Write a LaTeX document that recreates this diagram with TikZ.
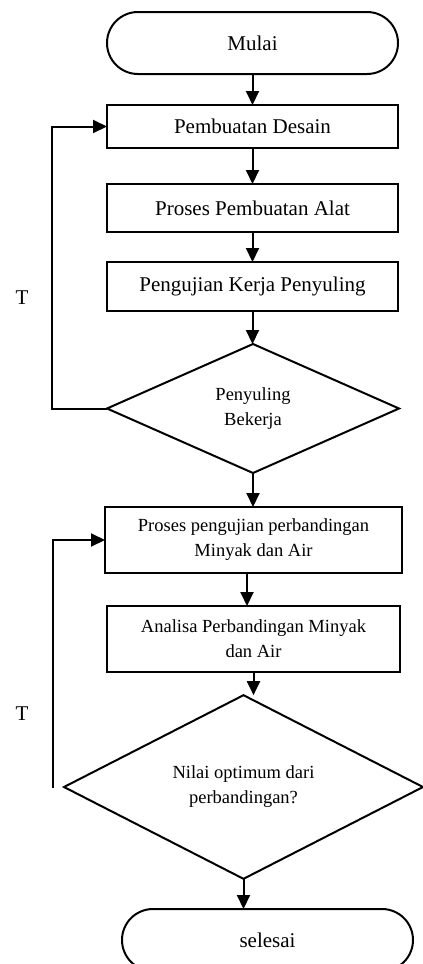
\documentclass[tikz,border=0pt]{standalone}
\usepackage{fontspec}
\setmainfont{Liberation Serif}
\usetikzlibrary{shapes.geometric,shapes.misc,arrows.meta}
\begin{document}
\begin{tikzpicture}[x=1pt,y=-1pt,
  every node/.style={inner sep=0pt,outer sep=0pt},
  base/.style={draw=black,line width=2pt,fill=white},
  big/.style={font=\fontsize{21}{25}\selectfont},
  small/.style={font=\fontsize{18.5}{25}\selectfont,align=center},
  term/.style={base,big,rounded rectangle,minimum width=291pt,minimum height=62pt},
  proc/.style={base,rectangle,minimum width=291pt},
  dec/.style={base,diamond,small},
  conn/.style={line width=2pt,-{Triangle[length=14pt,width=13pt]}}
]
\useasboundingbox (0,0) rectangle (423,964);
\node[term] (mulai) at (252.5,43) {Mulai};
\node[proc,big,minimum height=43pt] (b1) at (252.5,126.5) {Pembuatan Desain};
\node[proc,big,minimum height=48pt] (b2) at (252.5,208) {Proses Pembuatan Alat};
\node[proc,big,minimum height=49pt] (b3) at (252.5,286.5) {Pengujian Kerja Penyuling};
\node[dec,minimum width=292pt,minimum height=129pt] (d1) at (253,408.5) {Penyuling\\Bekerja};
\node[proc,small,minimum width=297pt,minimum height=66pt] (b4) at (253.5,540) {Proses pengujian perbandingan\\Minyak dan Air};
\node[proc,small,minimum width=293pt,minimum height=66pt] (b5) at (253.5,639) {Analisa Perbandingan Minyak\\dan Air};
\node[dec,minimum width=359pt,minimum height=164pt] (d2) at (243.5,787) {Nilai optimum dari\\perbandingan?};
\node[term] (selesai) at (267.5,940) {selesai};
\node[big] (t1) at (22,298) {T};
\node[big] (t2) at (22,714) {T};
\coordinate (l2) at (53,788);

\draw[conn] (mulai.south) -- (b1.north);
\draw[conn] (b1.south) -- (b2.north);
\draw[conn] (b2.south) -- (b3.north);
\draw[conn] (b3.south) -- (b3.south |- d1.north);
\draw[conn] (d1.south) -- (d1.south |- b4.north);
\draw[conn] ([xshift=-6.5pt]b4.south) -- ([xshift=-6.5pt]b4.south |- b5.north);
\draw[conn] (b5.south) -- (b5.south |- d2.north);
\draw[conn] (d2.south) -- (d2.south |- selesai.north);
\draw[conn] (d1.west) -- ++(-55,0) |- (b1.west);
\draw[conn] (l2) |- (b4.west);
\end{tikzpicture}
\end{document}
